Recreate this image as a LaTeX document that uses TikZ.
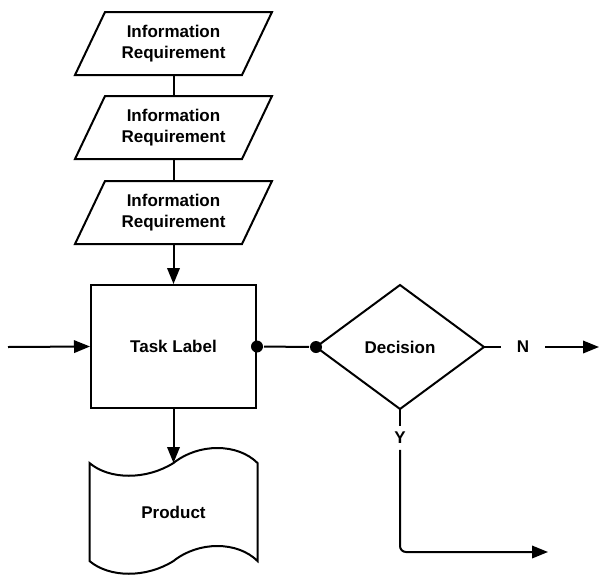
\documentclass[tikz,border=0pt]{standalone}
\usepackage{fontspec}
\setmainfont{Liberation Sans}
\usetikzlibrary{arrows.meta}
\begin{document}
\begin{tikzpicture}[x=1pt,y=-1pt,
  line width=2pt,
  lbl/.style={font=\fontsize{17}{21.5}\selectfont\bfseries, align=center, inner sep=0pt},
  parabox/.style={lbl, minimum width=165pt, minimum height=61pt},
  arr/.style={-{Triangle[length=16pt,width=12.5pt]}},
  dot/.style={circle, fill=black, inner sep=0pt, minimum size=12pt}]
\useasboundingbox (0,0) rectangle (600,574);
% information requirements
\node[parabox] (p1) at (173.5,43.5) {Information\\Requirement};
\node[parabox] (p2) at (173.5,127.5) {Information\\Requirement};
\node[parabox] (p3) at (173.5,212.5) {Information\\Requirement};
\foreach \n in {p1,p2,p3}
  \draw ([xshift=15pt]\n.north west) -- ([xshift=15pt]\n.north east)
     -- ([xshift=-15pt]\n.south east) -- ([xshift=-15pt]\n.south west) -- cycle;
% task
\node[draw, lbl, minimum width=165pt, minimum height=123pt] (task) at (173.5,346.5) {Task Label};
% decision
\node[lbl, minimum width=166pt, minimum height=122pt] (dec) at (400,347) {Decision};
\draw (dec.north) -- (dec.east) -- (dec.south) -- (dec.west) -- cycle;
% product
\node[lbl, minimum width=166pt, minimum height=96pt] (prod) at (173.5,512) {Product};
\draw (prod.north west) .. controls +(20,17) and +(-27,17) .. (prod.north)
   .. controls +(25,-20) and +(-20,-20) .. (prod.north east)
   -- (prod.south east) .. controls +(-20,-20) and +(25,-20) .. (prod.south)
   .. controls +(-27,17) and +(20,17) .. (prod.south west) -- cycle;
% connectors
\draw (p1) -- (p2);
\draw (p2) -- (p3);
\draw[arr] (p3.south) -- (task.north);
\coordinate (in) at (8,347);
\draw[arr] (in) -- (task.west);
\draw[arr] (task.south) -- (prod.north);
\node[dot] (d1) at (task.east) {};
\node[dot] (d2) at (dec.west) {};
\draw (d1) -- (d2);
\node[lbl, inner xsep=15pt] (n) at (523,347) {N};
\coordinate (nend) at (599,347);
\draw (dec.east) -- (n);
\draw[arr] (n) -- (nend);
\node[lbl, inner sep=5pt] (y) at (400,438) {Y};
\coordinate (yend) at (548,552);
\draw (dec.south) -- (y);
\draw[arr, rounded corners=6pt] (y) |- (yend);
\end{tikzpicture}
\end{document}
